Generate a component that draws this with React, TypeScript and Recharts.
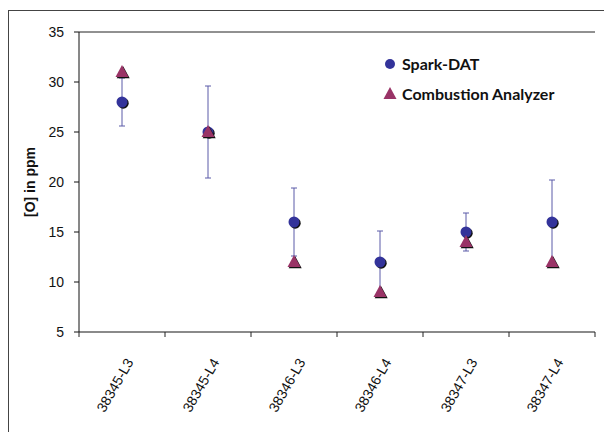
import {
  ComposedChart,
  Line,
  XAxis,
  YAxis,
  CartesianGrid,
  ErrorBar,
} from "recharts";

const categories = ["38345-L3", "38345-L4", "38346-L3", "38346-L4", "38347-L3", "38347-L4"];
const sparkDat = [28, 25, 16, 12, 15, 16];
const sparkErr = [2.4, 4.6, 3.4, 3.1, 1.9, 4.2];
const combustion = [31, 25, 12, 9, 14, 12];
const yTicks = [5, 10, 15, 20, 25, 30, 35];

const data = categories.map((name, i) => ({
  name,
  spark: sparkDat[i],
  err: sparkErr[i],
  combustion: combustion[i],
}));

const W = 604;
const H = 432;
const margin = { top: 32, right: 9, left: 8, bottom: 0 };
const Y_AXIS_W = 71;
const BAND = (W - margin.left - Y_AXIS_W - margin.right) / categories.length;

const BLUE = "#33339a";
const PLUM = "#993366";
const ERR = "#5a5aa8";

const CircleDot = (props: any) => {
  const { cx, cy } = props;
  if (cx == null || cy == null) return null;
  return (
    <g>
      <circle cx={cx + 1.2} cy={cy + 1.2} r={5.5} fill="#111" />
      <circle cx={cx} cy={cy} r={5.5} fill={BLUE} />
    </g>
  );
};

const triPath = (cx: number, cy: number) =>
  `M${cx},${cy - 7} L${cx + 6.5},${cy + 5} L${cx - 6.5},${cy + 5} Z`;

const TriDot = (props: any) => {
  const { cx, cy } = props;
  if (cx == null || cy == null) return null;
  return (
    <g>
      <path d={triPath(cx + 1.2, cy + 1.2)} fill="#111" />
      <path d={triPath(cx, cy)} fill={PLUM} />
    </g>
  );
};

const XTick = (props: any) => {
  const { x, y, payload, index } = props;
  const half = BAND / 2;
  const tx = x + 12;
  const ty = y + 30;
  return (
    <g>
      <line x1={x - half} y1={y} x2={x - half} y2={y + 5} stroke="#222" />
      {index === categories.length - 1 && (
        <line x1={x + half} y1={y} x2={x + half} y2={y + 5} stroke="#222" />
      )}
      <text
        x={tx}
        y={ty}
        transform={`rotate(-60, ${tx}, ${ty})`}
        textAnchor="end"
        fontSize={14}
        fill="#111"
        fontFamily="Liberation Sans, Arial, sans-serif"
      >
        {payload.value}
      </text>
    </g>
  );
};

const legendText = {
  fontFamily: "Lato, sans-serif",
  fontWeight: 700,
  fontSize: 16,
  fill: "#111",
};

const LegendBox = () => (
  <svg
    width={216}
    height={68}
    style={{ position: "absolute", left: 371, top: 48, background: "#fff" }}
  >
    <circle cx={19} cy={16} r={5} fill={BLUE} />
    <text x={31} y={22} {...legendText}>
      Spark-DAT
    </text>
    <path d={triPath(19, 46)} fill={PLUM} />
    <text x={31} y={52} {...legendText}>
      Combustion Analyzer
    </text>
  </svg>
);

export default function App() {
  return (
    <div
      style={{
        position: "fixed",
        left: 0,
        top: 0,
        width: W,
        height: H,
        background: "#fff",
        overflow: "hidden",
      }}
    >
      <div
        style={{
          position: "absolute",
          left: 8,
          top: 10,
          width: W,
          height: H,
          borderTop: "1.5px solid #444",
          borderLeft: "1.5px solid #444",
        }}
      />
      <div style={{ position: "absolute", left: 0, top: 0 }}>
        <ComposedChart width={W} height={H} data={data} margin={margin}>
          <CartesianGrid horizontal vertical={false} stroke="#222" />
          <XAxis
            dataKey="name"
            type="category"
            scale="band"
            height={100}
            axisLine={{ stroke: "#888", strokeWidth: 1.5 }}
            tickLine={false}
            tickSize={0}
            tickMargin={0}
            interval={0}
            tick={<XTick />}
          />
          <YAxis
            yAxisId="left"
            width={Y_AXIS_W}
            domain={[5, 35]}
            ticks={yTicks}
            interval={0}
            allowDataOverflow
            axisLine={{ stroke: "#111" }}
            tickLine={{ stroke: "#111" }}
            tickSize={5}
            tickMargin={10}
            tick={{ fontSize: 14, fill: "#111", fontFamily: "Liberation Sans, Arial, sans-serif" }}
            label={{
              value: "[O] in ppm",
              angle: -90,
              position: "insideLeft",
              offset: 22,
              style: {
                textAnchor: "middle",
                fontSize: 14,
                fontWeight: 700,
                fill: "#111",
                fontFamily: "Liberation Sans, Arial, sans-serif",
              },
            }}
          />
          <YAxis
            yAxisId="right"
            orientation="right"
            width={0}
            domain={[5, 35]}
            tick={false}
            tickLine={false}
            axisLine={{ stroke: "#111" }}
          />
          <Line
            yAxisId="left"
            dataKey="spark"
            name="Spark-DAT"
            stroke="none"
            dot={<CircleDot />}
            activeDot={false}
            isAnimationActive={false}
          >
            <ErrorBar dataKey="err" direction="y" width={3} stroke={ERR} strokeWidth={1} />
          </Line>
          <Line
            yAxisId="left"
            dataKey="combustion"
            name="Combustion Analyzer"
            stroke="none"
            dot={<TriDot />}
            activeDot={false}
            isAnimationActive={false}
          />
        </ComposedChart>
      </div>
      <LegendBox />
    </div>
  );
}
